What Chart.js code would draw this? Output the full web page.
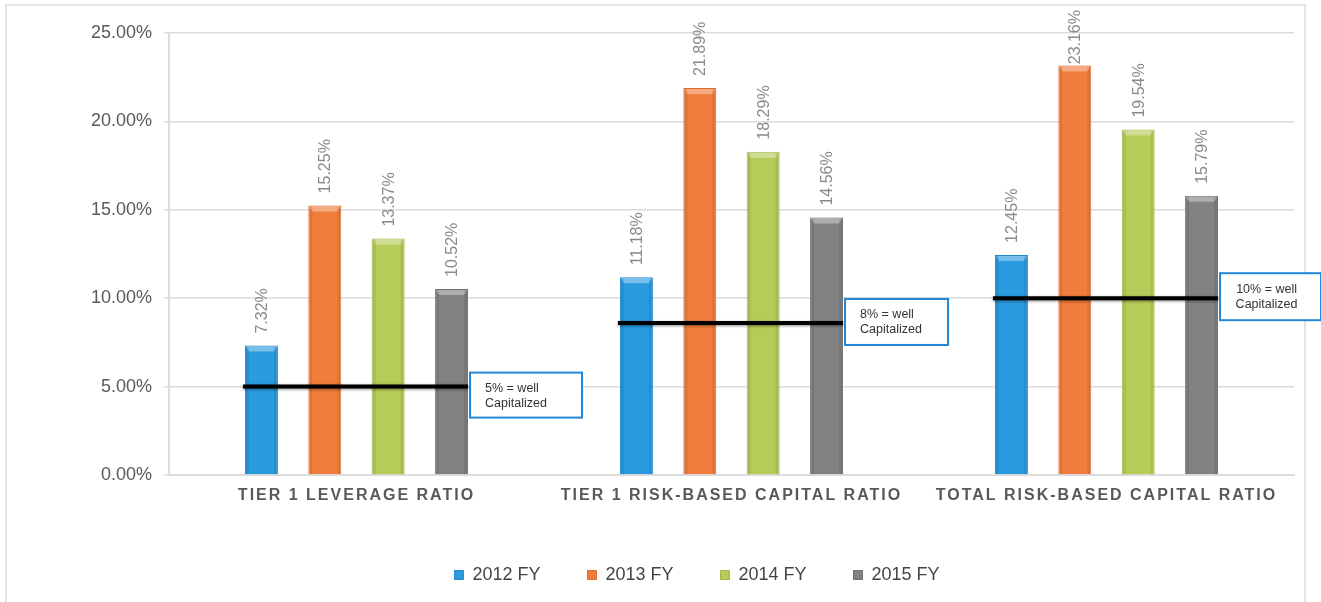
<!DOCTYPE html>
<html>
<head>
<meta charset="utf-8">
<script src="https://cdn.jsdelivr.net/npm/chart.js@4.4.0/dist/chart.umd.min.js"></script>
<style>
  html, body { margin: 0; padding: 0; background: #fff; }
  #wrap { position: relative; width: 1321px; height: 602px; overflow: hidden; }
  #frame { position: absolute; left: 5px; top: 4px; width: 1297px; height: 640px; border: 2px solid #e4e4e4; }
  canvas { position: absolute; left: 0; top: 0; }
</style>
</head>
<body>
<div id="wrap">
  <div id="frame"></div>
  <canvas id="myChart" width="1321" height="602"></canvas>
</div>
<script>
const categories = ['TIER 1 LEVERAGE RATIO', 'TIER 1 RISK-BASED CAPITAL RATIO', 'TOTAL RISK-BASED CAPITAL RATIO'];
const seriesNames = ['2012 FY', '2013 FY', '2014 FY', '2015 FY'];
const fy2012 = [7.32, 11.18, 12.45];
const fy2013 = [15.25, 21.89, 23.16];
const fy2014 = [13.37, 18.29, 19.54];
const fy2015 = [10.52, 14.56, 15.79];
const wellCapLevels = [5, 8.6, 10];
const wellCapNotes = [['5% = well', 'Capitalized'], ['8% = well', 'Capitalized'], ['10% = well', 'Capitalized']];

const colors = ['#2b9be0', '#f07d3c', '#b6cc58', '#828282'];
const edgeColors = ['#2388c8', '#d96d33', '#a2b84c', '#717171'];

// note boxes: offset from end of the black line, size, text alignment
const noteBoxes = [
    { dy: -14, w: 112, h: 45, align: 'left' },
    { dy: -24, w: 103, h: 46, align: 'left' },
    { dy: -25, w: 101, h: 47, align: 'center' }
];

Chart.defaults.font.family = "'Liberation Sans', Arial, sans-serif";

const extras = {
    id: 'extras',
    afterLayout(chart) {
        // legend in the original sits right of centre
        chart.legend.left += 50;
        chart.legend.right += 50;
    },
    afterDatasetsDraw(chart) {
        const ctx = chart.ctx;
        const yScale = chart.scales.y;
        const metas = chart.data.datasets.map((d, i) => chart.getDatasetMeta(i));

        // bevel + value labels
        metas.forEach((meta, di) => {
            meta.data.forEach((bar, i) => {
                const l = bar.x - bar.width / 2, r = bar.x + bar.width / 2;
                ctx.save();
                ctx.fillStyle = 'rgba(255,255,255,0.35)';
                ctx.beginPath();
                ctx.moveTo(l + 1, bar.y + 1);
                ctx.lineTo(r - 1, bar.y + 1);
                ctx.lineTo(r - 4, bar.y + 6);
                ctx.lineTo(l + 4, bar.y + 6);
                ctx.closePath();
                ctx.fill();
                ctx.fillStyle = 'rgba(0,0,0,0.08)';
                ctx.fillRect(l + 1, bar.y + 1, 3, bar.base - bar.y - 1);
                ctx.fillRect(r - 4, bar.y + 1, 3, bar.base - bar.y - 1);
                ctx.restore();

                const v = chart.data.datasets[di].data[i];
                const txt = v.toFixed(2) + '%';
                ctx.save();
                ctx.font = "16px 'Liberation Sans', Arial, sans-serif";
                const tw = ctx.measureText(txt).width;
                // keep the label inside the frame, as in the original
                const start = Math.max(bar.y - 12, 10 + tw);
                ctx.translate(bar.x, start);
                ctx.rotate(-Math.PI / 2);
                ctx.fillStyle = '#8a8a8a';
                ctx.textAlign = 'left';
                ctx.textBaseline = 'middle';
                ctx.fillText(txt, 0, 1);
                ctx.restore();
            });
        });

        // well capitalized lines and notes
        wellCapLevels.forEach((level, i) => {
            const first = metas[0].data[i];
            const last = metas[metas.length - 1].data[i];
            const x0 = first.x - first.width / 2 - 2;
            const x1 = last.x + last.width / 2;
            const y = yScale.getPixelForValue(level);
            ctx.save();
            ctx.strokeStyle = '#000';
            ctx.lineWidth = 4;
            ctx.shadowColor = 'rgba(0,0,0,0.45)';
            ctx.shadowBlur = 3;
            ctx.shadowOffsetY = 1;
            ctx.beginPath();
            ctx.moveTo(x0, y);
            ctx.lineTo(x1, y);
            ctx.stroke();
            ctx.restore();

            const b = noteBoxes[i];
            const bx = x1 + 2, by = y + b.dy;
            ctx.save();
            ctx.fillStyle = '#fff';
            ctx.fillRect(bx, by, b.w, b.h);
            ctx.strokeStyle = '#2285d6';
            ctx.lineWidth = 2;
            ctx.strokeRect(bx, by, b.w, b.h);
            ctx.fillStyle = '#333';
            ctx.font = "12.5px 'Liberation Sans', Arial, sans-serif";
            ctx.textBaseline = 'middle';
            ctx.textAlign = b.align;
            const tx = b.align === 'center' ? bx + b.w / 2 - 4 : bx + 15;
            ctx.fillText(wellCapNotes[i][0], tx, by + 16);
            ctx.fillText(wellCapNotes[i][1], tx, by + 31);
            ctx.restore();
        });

        // spaced-out category labels are drawn after this (ticks z: 1)
        ctx.letterSpacing = '2px';
    },
    afterDraw(chart) {
        chart.ctx.letterSpacing = '0px';
    }
};

const ctx = document.getElementById('myChart');

const myChart = new Chart(ctx, {
    type: 'bar',
    data: {
        labels: categories,
        datasets: [fy2012, fy2013, fy2014, fy2015].map((d, i) => ({
            label: seriesNames[i],
            data: d,
            backgroundColor: colors[i],
            borderColor: edgeColors[i],
            borderWidth: 1,
            categoryPercentage: 0.676,
            barPercentage: 0.52
        }))
    },
    options: {
        responsive: false,
        animation: false,
        layout: { padding: { left: 0, right: 27, top: 33, bottom: 8 } },
        plugins: {
            legend: {
                position: 'bottom',
                labels: {
                    boxWidth: 9,
                    boxHeight: 9,
                    padding: 47,
                    color: '#444',
                    font: { size: 18 }
                }
            },
            tooltip: { enabled: false }
        },
        scales: {
            x: {
                grid: { display: false, drawTicks: false },
                border: { display: true, color: '#dcdcdc', width: 2 },
                ticks: {
                    z: 1,
                    padding: 11,
                    color: '#595959',
                    font: { size: 16, weight: 'bold' },
                    maxRotation: 0,
                    autoSkip: false
                },
                afterFit: s => { s.height = 44; }
            },
            y: {
                min: 0,
                max: 25,
                ticks: {
                    stepSize: 5,
                    padding: 12,
                    color: '#595959',
                    font: { size: 18 },
                    callback: v => v.toFixed(2) + '%'
                },
                grid: { color: '#dcdcdc', lineWidth: 1.5, tickLength: 5 },
                border: { color: '#dcdcdc', width: 2 },
                afterFit: s => { s.width = 169; }
            }
        }
    },
    plugins: [extras]
});
</script>
</body>
</html>
